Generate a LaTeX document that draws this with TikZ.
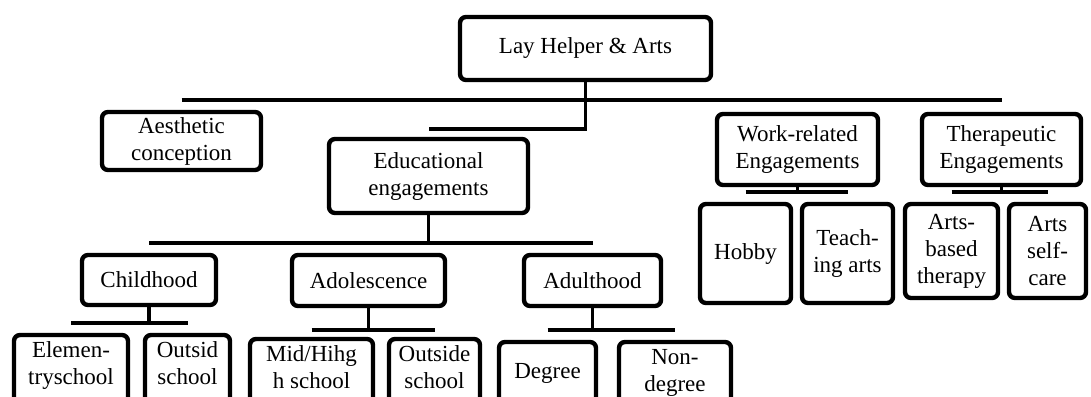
\documentclass[tikz,border=0pt]{standalone}
\usepackage{fontspec}
\setmainfont{Liberation Serif}
\usepackage{tikz}

\begin{document}
\begin{tikzpicture}[
  x=0.5pt,y=-0.5pt,
  box/.style={draw=black,line width=2.2pt,rounded corners=3pt,fill=white,align=center,inner sep=1pt,font=\fontsize{11.5}{13.5}\selectfont},
  leaf/.style={box,minimum height=36pt,text depth=7.5pt},
  link/.style={draw=black,line width=1.9pt}
]
\clip (0,0) rectangle (1091,396);
\fill[white] (0,0) rectangle (1091,396);

\node[box,minimum width=125.5pt,minimum height=31.5pt] (root) at (585.5,48.5) {Lay Helper \& Arts};

\node[box,minimum width=79.5pt,minimum height=29pt] (aesth) at (181.5,141) {Aesthetic\\conception};
\node[box,minimum width=99.5pt,minimum height=37pt] (educ) at (428.5,176) {Educational\\engagements};
\node[box,minimum width=80.5pt,minimum height=35.5pt] (work) at (797.5,149.5) {Work-related\\Engagements};
\node[box,minimum width=79.5pt,minimum height=35.5pt] (thera) at (1001.5,149.5) {Therapeutic\\Engagements};

\node[box,minimum width=45.5pt,minimum height=49.5pt] (hobby) at (745.5,253.5) {Hobby};
\node[box,minimum width=45.5pt,minimum height=49.5pt] (teach) at (847.5,253.5) {Teach-\\ing arts};
\node[box,minimum width=46.5pt,minimum height=47pt] (artsbased) at (951.5,251) {Arts-\\based\\therapy};
\node[box,minimum width=38.5pt,minimum height=47pt] (selfcare) at (1047.5,251) {Arts\\self-\\care};

\node[box,minimum width=67pt,minimum height=25pt] (child) at (149,280) {Childhood};
\node[box,minimum width=76.5pt,minimum height=25.5pt] (adol) at (368.5,280.5) {Adolescence};
\node[box,minimum width=68.5pt,minimum height=25.5pt] (adult) at (592.5,280.5) {Adulthood};

\node[leaf,minimum width=57pt] (elem) at (71,371) {Elemen-\\tryschool};
\node[leaf,minimum width=42.5pt] (outsid) at (187.5,371) {Outsid\\school};
\node[leaf,minimum width=61.5pt] (midhigh) at (311.5,375) {Mid/Hihg\\h school};
\node[leaf,minimum width=45.5pt] (outside) at (434.5,375) {Outside\\school};
\node[leaf,minimum width=48.5pt] (degree) at (547.5,378) {Degree};
\node[leaf,minimum width=56pt] (nondeg) at (675,378) {Non-\\degree};

% bars sitting just above each row of children
\coordinate (rootbar) at ([yshift=5pt]aesth.north);
\coordinate (educbar) at ([yshift=4pt]educ.north);
\coordinate (agebar) at ([yshift=5pt]child.north);
\coordinate (childbar) at ([yshift=5pt]elem.north);
\coordinate (adolbar) at ([yshift=3.5pt]midhigh.north);
\coordinate (adultbar) at ([yshift=5pt]degree.north);
\coordinate (workbar) at ([yshift=5pt]hobby.north);
\coordinate (therabar) at ([yshift=5pt]artsbased.north);

\draw[link] (rootbar) -- (rootbar -| thera.north);
\draw[link] (root.south) |- (educbar);
\draw[link] (educ.south) -- (educ.south |- agebar);
\draw[link] (agebar) -- (agebar -| adult.north);

\draw[link] (child.south) -- (child.south |- childbar);
\draw[link] (childbar) -- (childbar -| outsid.north);
\draw[link] (adol.south) -- (adol.south |- adolbar);
\draw[link] (adolbar) -- (adolbar -| outside.north);
\draw[link] (adult.south) -- (adult.south |- adultbar);
\draw[link] (adultbar) -- (adultbar -| nondeg.north);

\draw[link] (work.south) -- (work.south |- workbar);
\draw[link] (workbar) -- (workbar -| teach.north);
\draw[link] (thera.south) -- (thera.south |- therabar);
\draw[link] (therabar) -- (therabar -| selfcare.north);
\end{tikzpicture}
\end{document}
